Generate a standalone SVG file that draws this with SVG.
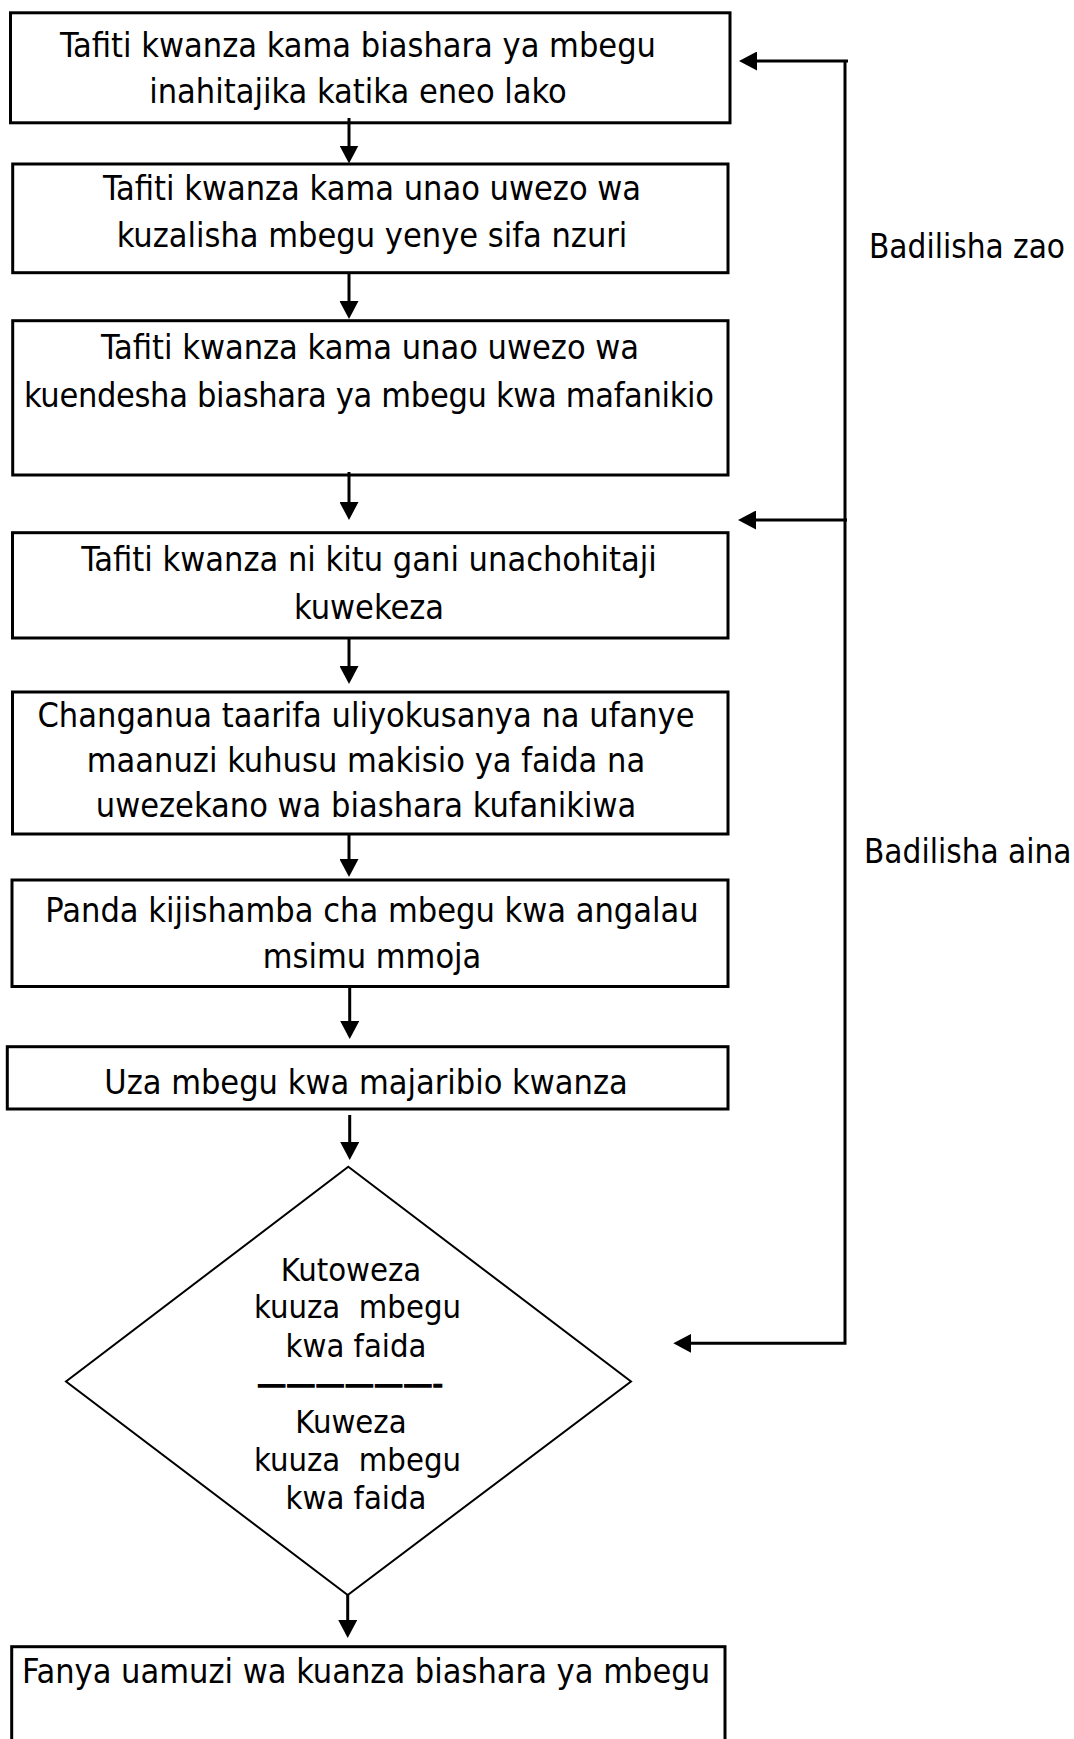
<svg xmlns="http://www.w3.org/2000/svg" width="1074" height="1739" viewBox="0 0 1074 1739">
<style>
.box{fill:#fff;stroke:#000;stroke-width:3}
.dia{fill:#fff;stroke:#000;stroke-width:2}
.t{font-family:'DejaVu Sans Condensed','DejaVu Sans',sans-serif;font-stretch:condensed;font-size:34px;fill:#000;text-anchor:middle}
.d{font-family:'DejaVu Sans Condensed','DejaVu Sans',sans-serif;font-stretch:condensed;font-size:32.5px;fill:#000;text-anchor:middle}
.sep{stroke:#000;stroke-width:1.3}
.lbl{font-family:'DejaVu Sans Condensed','DejaVu Sans',sans-serif;font-stretch:condensed;font-size:33px;fill:#000}
.c{fill:none;stroke:#000;stroke-width:3}
</style>
<defs>
<marker id="ah" markerUnits="userSpaceOnUse" markerWidth="18" markerHeight="19" refX="6" refY="9.5" orient="auto" viewBox="0 0 18 19"><path d="M0,0L18,9.5L0,19z" fill="#000"/></marker>
</defs>
<rect width="1074" height="1739" fill="#fff"/>
<g id="n1"><rect class="box" x="10.5" y="12.8" width="719.5" height="110"/>
<text class="t" x="358" y="57">Tafiti kwanza kama biashara ya mbegu</text>
<text class="t" x="358" y="103">inahitajika katika eneo lako</text></g>
<g id="n2"><rect class="box" x="12.7" y="164" width="715.3" height="108.7"/>
<text class="t" x="372" y="200">Tafiti kwanza kama unao uwezo wa</text>
<text class="t" x="372" y="247">kuzalisha mbegu yenye sifa nzuri</text></g>
<g id="n3"><rect class="box" x="12.7" y="320.7" width="715.3" height="154.3"/>
<text class="t" x="370" y="359">Tafiti kwanza kama unao uwezo wa</text>
<text class="t" x="369" y="407" textLength="690" lengthAdjust="spacing">kuendesha biashara ya mbegu kwa mafanikio</text></g>
<g id="n4"><rect class="box" x="12.5" y="532.7" width="715.5" height="105.3"/>
<text class="t" x="369" y="571">Tafiti kwanza ni kitu gani unachohitaji</text>
<text class="t" x="369" y="619">kuwekeza</text></g>
<g id="n5"><rect class="box" x="12.5" y="692" width="715.5" height="142"/>
<text class="t" x="366" y="727">Changanua taarifa uliyokusanya na ufanye</text>
<text class="t" x="366" y="772">maanuzi kuhusu makisio ya faida na</text>
<text class="t" x="366" y="817">uwezekano wa biashara kufanikiwa</text></g>
<g id="n6"><rect class="box" x="12" y="880" width="716" height="106.5"/>
<text class="t" x="372" y="922">Panda kijishamba cha mbegu kwa angalau</text>
<text class="t" x="372" y="968">msimu mmoja</text></g>
<g id="n7"><rect class="box" x="7.3" y="1046.7" width="720.7" height="62.3"/>
<text class="t" x="366" y="1094">Uza mbegu kwa majaribio kwanza</text></g>
<g id="n8"><rect class="box" x="11.7" y="1646.7" width="713.3" height="130"/>
<text class="t" x="366" y="1683">Fanya uamuzi wa kuanza biashara ya mbegu</text></g>
<g id="n9"><polygon class="dia" points="348.3,1166.7 631,1381.5 347.7,1595 66,1381.5"/>
<text class="d" x="351" y="1281">Kutoweza</text>
<text class="d" x="357.5" y="1318" xml:space="preserve">kuuza  mbegu</text>
<text class="d" x="356" y="1357">kwa faida</text>
<text class="d sep" x="350" y="1395">——————-</text>
<text class="d" x="351" y="1433">Kuweza</text>
<text class="d" x="357.5" y="1471" xml:space="preserve">kuuza  mbegu</text>
<text class="d" x="356" y="1509">kwa faida</text></g>
<g id="labels">
<text class="lbl" x="869" y="258">Badilisha zao</text>
<text class="lbl" x="864" y="863">Badilisha aina</text></g>
<g id="connectors">
<path class="c" marker-end="url(#ah)" d="M349,118V151.5"/>
<path class="c" marker-end="url(#ah)" d="M349,272.7V307"/>
<path class="c" marker-end="url(#ah)" d="M349,472V508"/>
<path class="c" marker-end="url(#ah)" d="M349,638.5V672"/>
<path class="c" marker-end="url(#ah)" d="M349,834V865"/>
<path class="c" marker-end="url(#ah)" d="M349.7,986.5V1027"/>
<path class="c" marker-end="url(#ah)" d="M349.7,1115V1148"/>
<path class="c" marker-end="url(#ah)" d="M347.7,1595V1626"/>
<path class="c" marker-end="url(#ah)" d="M845,61V1343.3H685.3"/>
<path class="c" marker-end="url(#ah)" d="M848,61H751"/>
<path class="c" marker-end="url(#ah)" d="M847,520H750"/>
</g>
</svg>
